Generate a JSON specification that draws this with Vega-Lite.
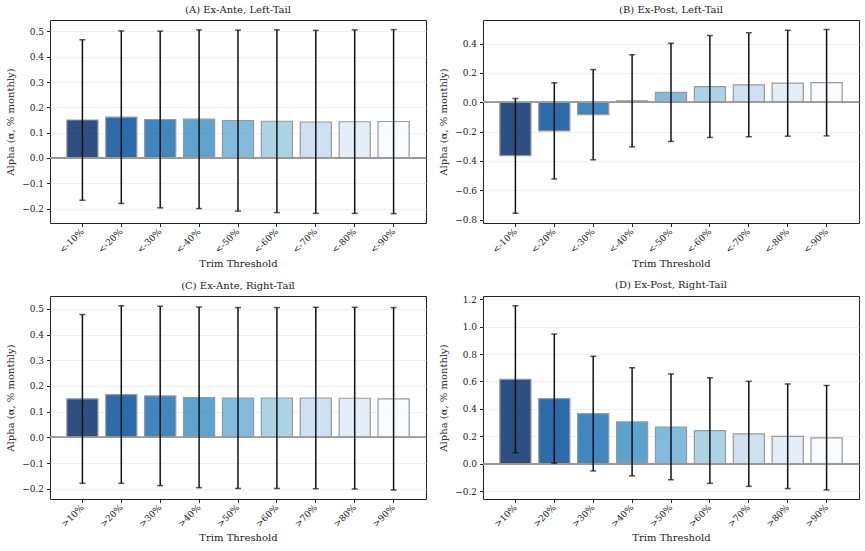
{
  "$schema": "https://vega.github.io/schema/vega-lite/v6.json",
  "background": "white",
  "padding": {"left": 5, "top": 4, "right": 5, "bottom": 5},
  "bounds": "flush",
  "columns": 2,
  "spacing": {"column": 57, "row": 73},
  "config": {
    "font": "DejaVu Serif",
    "view": {"stroke": "#222", "strokeWidth": 1},
    "axis": {
      "domain": false,
      "labelFont": "DejaVu Serif",
      "titleFont": "DejaVu Serif",
      "labelFontSize": 9,
      "titleFontSize": 10,
      "titleFontWeight": "normal",
      "labelColor": "#222",
      "titleColor": "#222",
      "tickColor": "#222",
      "tickSize": 3.5,
      "labelPadding": 3,
      "labelOverlap": false,
      "gridColor": "#ebebeb",
      "gridWidth": 0.8
    },
    "axisX": {"grid": false, "labelAngle": -45, "labelAlign": "right", "labelBaseline": "middle", "titlePadding": 4},
    "axisY": {"grid": true, "titlePadding": 6},
    "title": {"font": "DejaVu Serif", "fontSize": 10, "fontWeight": "normal", "color": "#222", "offset": 5}
  },
  "data": {
    "values": [
      {"panel": "A", "rank": 1, "label": "<-10%", "alpha": 0.150, "lo": -0.167, "hi": 0.467},
      {"panel": "A", "rank": 2, "label": "<-20%", "alpha": 0.161, "lo": -0.180, "hi": 0.502},
      {"panel": "A", "rank": 3, "label": "<-30%", "alpha": 0.152, "lo": -0.197, "hi": 0.501},
      {"panel": "A", "rank": 4, "label": "<-40%", "alpha": 0.153, "lo": -0.200, "hi": 0.506},
      {"panel": "A", "rank": 5, "label": "<-50%", "alpha": 0.148, "lo": -0.210, "hi": 0.505},
      {"panel": "A", "rank": 6, "label": "<-60%", "alpha": 0.145, "lo": -0.216, "hi": 0.506},
      {"panel": "A", "rank": 7, "label": "<-70%", "alpha": 0.142, "lo": -0.219, "hi": 0.504},
      {"panel": "A", "rank": 8, "label": "<-80%", "alpha": 0.143, "lo": -0.219, "hi": 0.506},
      {"panel": "A", "rank": 9, "label": "<-90%", "alpha": 0.144, "lo": -0.220, "hi": 0.507},
      {"panel": "B", "rank": 1, "label": "<-10%", "alpha": -0.364, "lo": -0.757, "hi": 0.026},
      {"panel": "B", "rank": 2, "label": "<-20%", "alpha": -0.195, "lo": -0.523, "hi": 0.133},
      {"panel": "B", "rank": 3, "label": "<-30%", "alpha": -0.085, "lo": -0.392, "hi": 0.223},
      {"panel": "B", "rank": 4, "label": "<-40%", "alpha": 0.010, "lo": -0.304, "hi": 0.324},
      {"panel": "B", "rank": 5, "label": "<-50%", "alpha": 0.068, "lo": -0.267, "hi": 0.402},
      {"panel": "B", "rank": 6, "label": "<-60%", "alpha": 0.107, "lo": -0.240, "hi": 0.455},
      {"panel": "B", "rank": 7, "label": "<-70%", "alpha": 0.119, "lo": -0.235, "hi": 0.474},
      {"panel": "B", "rank": 8, "label": "<-80%", "alpha": 0.130, "lo": -0.231, "hi": 0.491},
      {"panel": "B", "rank": 9, "label": "<-90%", "alpha": 0.134, "lo": -0.229, "hi": 0.496},
      {"panel": "C", "rank": 1, "label": ">10%", "alpha": 0.150, "lo": -0.179, "hi": 0.478},
      {"panel": "C", "rank": 2, "label": ">20%", "alpha": 0.166, "lo": -0.179, "hi": 0.512},
      {"panel": "C", "rank": 3, "label": ">30%", "alpha": 0.161, "lo": -0.188, "hi": 0.510},
      {"panel": "C", "rank": 4, "label": ">40%", "alpha": 0.155, "lo": -0.196, "hi": 0.507},
      {"panel": "C", "rank": 5, "label": ">50%", "alpha": 0.153, "lo": -0.199, "hi": 0.505},
      {"panel": "C", "rank": 6, "label": ">60%", "alpha": 0.153, "lo": -0.199, "hi": 0.505},
      {"panel": "C", "rank": 7, "label": ">70%", "alpha": 0.153, "lo": -0.200, "hi": 0.506},
      {"panel": "C", "rank": 8, "label": ">80%", "alpha": 0.152, "lo": -0.201, "hi": 0.506},
      {"panel": "C", "rank": 9, "label": ">90%", "alpha": 0.150, "lo": -0.205, "hi": 0.505},
      {"panel": "D", "rank": 1, "label": ">10%", "alpha": 0.616, "lo": 0.082, "hi": 1.151},
      {"panel": "D", "rank": 2, "label": ">20%", "alpha": 0.475, "lo": 0.006, "hi": 0.945},
      {"panel": "D", "rank": 3, "label": ">30%", "alpha": 0.366, "lo": -0.051, "hi": 0.783},
      {"panel": "D", "rank": 4, "label": ">40%", "alpha": 0.306, "lo": -0.087, "hi": 0.700},
      {"panel": "D", "rank": 5, "label": ">50%", "alpha": 0.269, "lo": -0.115, "hi": 0.655},
      {"panel": "D", "rank": 6, "label": ">60%", "alpha": 0.243, "lo": -0.141, "hi": 0.627},
      {"panel": "D", "rank": 7, "label": ">70%", "alpha": 0.219, "lo": -0.163, "hi": 0.601},
      {"panel": "D", "rank": 8, "label": ">80%", "alpha": 0.200, "lo": -0.179, "hi": 0.582},
      {"panel": "D", "rank": 9, "label": ">90%", "alpha": 0.190, "lo": -0.189, "hi": 0.571}
    ]
  },
  "concat": [
    {
      "width": 376, "height": 203,
      "title": "(A) Ex-Ante, Left-Tail",
      "transform": [{"filter": "datum.panel === 'A'"}],
      "encoding": {
        "x": {"field": "label", "type": "nominal", "sort": {"field": "rank", "op": "min"}, "scale": {"paddingInner": 0.2, "paddingOuter": 0.433}, "axis": {"title": "Trim Threshold"}}
      },
      "layer": [
        {"mark": {"type": "bar", "stroke": "#999", "strokeWidth": 1.2, "fillOpacity": 0.85},
         "encoding": {
           "y": {"field": "alpha", "type": "quantitative", "scale": {"domain": [-0.257, 0.545], "nice": false, "zero": false}, "axis": {"title": "Alpha (α, % monthly)", "values": [-0.2, -0.1, 0, 0.1, 0.2, 0.3, 0.4, 0.5], "format": ".1f"}},
           "color": {"field": "rank", "type": "ordinal", "legend": null, "scale": {"range": ["#08306b", "#08519c", "#2171b5", "#4292c6", "#6baed6", "#9ecae1", "#c6dbef", "#deebf7", "#f7fbff"]}}
         }},
        {"mark": {"type": "rule", "color": "#999", "strokeWidth": 1}, "encoding": {"y": {"datum": 0, "axis": {"title": "Alpha (α, % monthly)", "values": [-0.2, -0.1, 0, 0.1, 0.2, 0.3, 0.4, 0.5], "format": ".1f"}}, "x": null}},
        {"mark": {"type": "rule", "color": "#111", "strokeWidth": 1.5}, "encoding": {"y": {"field": "lo", "type": "quantitative", "axis": {"title": "Alpha (α, % monthly)", "values": [-0.2, -0.1, 0, 0.1, 0.2, 0.3, 0.4, 0.5], "format": ".1f"}}, "y2": {"field": "hi"}}},
        {"mark": {"type": "tick", "orient": "horizontal", "size": 6, "thickness": 1.5, "color": "#111"}, "encoding": {"y": {"field": "hi", "type": "quantitative", "axis": {"title": "Alpha (α, % monthly)", "values": [-0.2, -0.1, 0, 0.1, 0.2, 0.3, 0.4, 0.5], "format": ".1f"}}}},
        {"mark": {"type": "tick", "orient": "horizontal", "size": 6, "thickness": 1.5, "color": "#111"}, "encoding": {"y": {"field": "lo", "type": "quantitative", "axis": {"title": "Alpha (α, % monthly)", "values": [-0.2, -0.1, 0, 0.1, 0.2, 0.3, 0.4, 0.5], "format": ".1f"}}}}
      ]
    },
    {
      "width": 376, "height": 203,
      "title": "(B) Ex-Post, Left-Tail",
      "transform": [{"filter": "datum.panel === 'B'"}],
      "encoding": {
        "x": {"field": "label", "type": "nominal", "sort": {"field": "rank", "op": "min"}, "scale": {"paddingInner": 0.2, "paddingOuter": 0.433}, "axis": {"title": "Trim Threshold"}}
      },
      "layer": [
        {"mark": {"type": "bar", "stroke": "#999", "strokeWidth": 1.2, "fillOpacity": 0.85},
         "encoding": {
           "y": {"field": "alpha", "type": "quantitative", "scale": {"domain": [-0.823, 0.561], "nice": false, "zero": false}, "axis": {"title": "Alpha (α, % monthly)", "values": [-0.8, -0.6, -0.4, -0.2, 0, 0.2, 0.4], "format": ".1f"}},
           "color": {"field": "rank", "type": "ordinal", "legend": null}
         }},
        {"mark": {"type": "rule", "color": "#999", "strokeWidth": 1}, "encoding": {"y": {"datum": 0, "axis": {"title": "Alpha (α, % monthly)", "values": [-0.8, -0.6, -0.4, -0.2, 0, 0.2, 0.4], "format": ".1f"}}, "x": null}},
        {"mark": {"type": "rule", "color": "#111", "strokeWidth": 1.5}, "encoding": {"y": {"field": "lo", "type": "quantitative", "axis": {"title": "Alpha (α, % monthly)", "values": [-0.8, -0.6, -0.4, -0.2, 0, 0.2, 0.4], "format": ".1f"}}, "y2": {"field": "hi"}}},
        {"mark": {"type": "tick", "orient": "horizontal", "size": 6, "thickness": 1.5, "color": "#111"}, "encoding": {"y": {"field": "hi", "type": "quantitative", "axis": {"title": "Alpha (α, % monthly)", "values": [-0.8, -0.6, -0.4, -0.2, 0, 0.2, 0.4], "format": ".1f"}}}},
        {"mark": {"type": "tick", "orient": "horizontal", "size": 6, "thickness": 1.5, "color": "#111"}, "encoding": {"y": {"field": "lo", "type": "quantitative", "axis": {"title": "Alpha (α, % monthly)", "values": [-0.8, -0.6, -0.4, -0.2, 0, 0.2, 0.4], "format": ".1f"}}}}
      ]
    },
    {
      "width": 376, "height": 203,
      "title": "(C) Ex-Ante, Right-Tail",
      "transform": [{"filter": "datum.panel === 'C'"}],
      "encoding": {
        "x": {"field": "label", "type": "nominal", "sort": {"field": "rank", "op": "min"}, "scale": {"paddingInner": 0.2, "paddingOuter": 0.433}, "axis": {"title": "Trim Threshold"}}
      },
      "layer": [
        {"mark": {"type": "bar", "stroke": "#999", "strokeWidth": 1.2, "fillOpacity": 0.85},
         "encoding": {
           "y": {"field": "alpha", "type": "quantitative", "scale": {"domain": [-0.24, 0.55], "nice": false, "zero": false}, "axis": {"title": "Alpha (α, % monthly)", "values": [-0.2, -0.1, 0, 0.1, 0.2, 0.3, 0.4, 0.5], "format": ".1f"}},
           "color": {"field": "rank", "type": "ordinal", "legend": null}
         }},
        {"mark": {"type": "rule", "color": "#999", "strokeWidth": 1}, "encoding": {"y": {"datum": 0, "axis": {"title": "Alpha (α, % monthly)", "values": [-0.2, -0.1, 0, 0.1, 0.2, 0.3, 0.4, 0.5], "format": ".1f"}}, "x": null}},
        {"mark": {"type": "rule", "color": "#111", "strokeWidth": 1.5}, "encoding": {"y": {"field": "lo", "type": "quantitative", "axis": {"title": "Alpha (α, % monthly)", "values": [-0.2, -0.1, 0, 0.1, 0.2, 0.3, 0.4, 0.5], "format": ".1f"}}, "y2": {"field": "hi"}}},
        {"mark": {"type": "tick", "orient": "horizontal", "size": 6, "thickness": 1.5, "color": "#111"}, "encoding": {"y": {"field": "hi", "type": "quantitative", "axis": {"title": "Alpha (α, % monthly)", "values": [-0.2, -0.1, 0, 0.1, 0.2, 0.3, 0.4, 0.5], "format": ".1f"}}}},
        {"mark": {"type": "tick", "orient": "horizontal", "size": 6, "thickness": 1.5, "color": "#111"}, "encoding": {"y": {"field": "lo", "type": "quantitative", "axis": {"title": "Alpha (α, % monthly)", "values": [-0.2, -0.1, 0, 0.1, 0.2, 0.3, 0.4, 0.5], "format": ".1f"}}}}
      ]
    },
    {
      "width": 376, "height": 203,
      "title": "(D) Ex-Post, Right-Tail",
      "transform": [{"filter": "datum.panel === 'D'"}],
      "encoding": {
        "x": {"field": "label", "type": "nominal", "sort": {"field": "rank", "op": "min"}, "scale": {"paddingInner": 0.2, "paddingOuter": 0.433}, "axis": {"title": "Trim Threshold"}}
      },
      "layer": [
        {"mark": {"type": "bar", "stroke": "#999", "strokeWidth": 1.2, "fillOpacity": 0.85},
         "encoding": {
           "y": {"field": "alpha", "type": "quantitative", "scale": {"domain": [-0.255, 1.222], "nice": false, "zero": false}, "axis": {"title": "Alpha (α, % monthly)", "values": [-0.2, 0, 0.2, 0.4, 0.6, 0.8, 1.0, 1.2], "format": ".1f"}},
           "color": {"field": "rank", "type": "ordinal", "legend": null}
         }},
        {"mark": {"type": "rule", "color": "#999", "strokeWidth": 1}, "encoding": {"y": {"datum": 0, "axis": {"title": "Alpha (α, % monthly)", "values": [-0.2, 0, 0.2, 0.4, 0.6, 0.8, 1.0, 1.2], "format": ".1f"}}, "x": null}},
        {"mark": {"type": "rule", "color": "#111", "strokeWidth": 1.5}, "encoding": {"y": {"field": "lo", "type": "quantitative", "axis": {"title": "Alpha (α, % monthly)", "values": [-0.2, 0, 0.2, 0.4, 0.6, 0.8, 1.0, 1.2], "format": ".1f"}}, "y2": {"field": "hi"}}},
        {"mark": {"type": "tick", "orient": "horizontal", "size": 6, "thickness": 1.5, "color": "#111"}, "encoding": {"y": {"field": "hi", "type": "quantitative", "axis": {"title": "Alpha (α, % monthly)", "values": [-0.2, 0, 0.2, 0.4, 0.6, 0.8, 1.0, 1.2], "format": ".1f"}}}},
        {"mark": {"type": "tick", "orient": "horizontal", "size": 6, "thickness": 1.5, "color": "#111"}, "encoding": {"y": {"field": "lo", "type": "quantitative", "axis": {"title": "Alpha (α, % monthly)", "values": [-0.2, 0, 0.2, 0.4, 0.6, 0.8, 1.0, 1.2], "format": ".1f"}}}}
      ]
    }
  ]
}
